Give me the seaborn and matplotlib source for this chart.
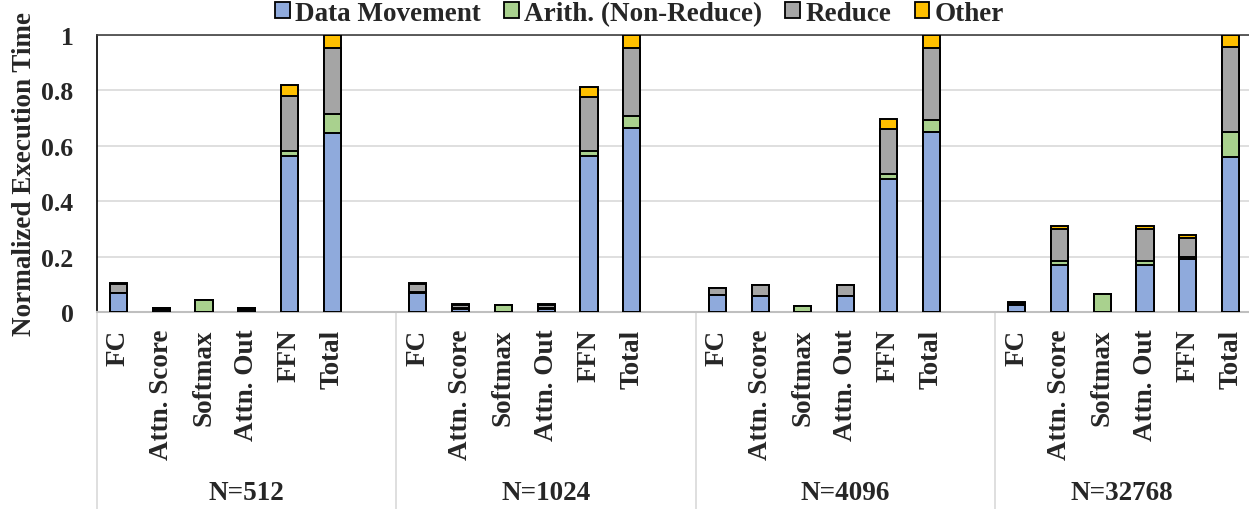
import pandas as pd
import matplotlib
matplotlib.use("Agg")
import matplotlib.pyplot as plt
import seaborn as sns
from matplotlib.patches import Patch

# values (normalized execution time)
groups = ["N=512", "N=1024", "N=4096", "N=32768"]
kernels = ["FC", "Attn. Score", "Softmax", "Attn. Out", "FFN", "Total"]
series = ["Data Movement", "Arith. (Non-Reduce)", "Reduce", "Other"]
colors = ["#8FAADC", "#A9D18E", "#A5A5A5", "#FFC000"]

data_movement = [0.068, 0.008, 0.0, 0.008, 0.563, 0.647,
                 0.070, 0.012, 0.0, 0.012, 0.562, 0.663,
                 0.060, 0.057, 0.0, 0.057, 0.481, 0.650,
                 0.024, 0.171, 0.0, 0.171, 0.192, 0.559]
arith = [0.002, 0.001, 0.045, 0.001, 0.019, 0.068,
         0.001, 0.001, 0.024, 0.001, 0.018, 0.046,
         0.001, 0.001, 0.022, 0.001, 0.017, 0.044,
         0.001, 0.013, 0.064, 0.013, 0.007, 0.091]
reduce_ = [0.031, 0.006, 0.0, 0.006, 0.197, 0.237,
           0.031, 0.014, 0.0, 0.014, 0.195, 0.243,
           0.024, 0.040, 0.0, 0.040, 0.163, 0.258,
           0.008, 0.114, 0.0, 0.114, 0.068, 0.308]
other = [0.003, 0.001, 0.0, 0.001, 0.039, 0.048,
         0.001, 0.001, 0.0, 0.001, 0.038, 0.048,
         0.003, 0.001, 0.0, 0.001, 0.036, 0.048,
         0.002, 0.011, 0.0, 0.011, 0.010, 0.042]

sns.set_style("white")
plt.rcParams["font.family"] = ["Liberation Serif", "DejaVu Serif"]
plt.rcParams["font.weight"] = "bold"
plt.rcParams["axes.labelweight"] = "bold"
FS = 19.5

# one slot per bar, plus an empty slot between groups
keys = [f"{g}|{k}" for g in groups for k in kernels]
order = []
tick_labels = []
for gi, g in enumerate(groups):
    for k in kernels:
        order.append(f"{g}|{k}")
        tick_labels.append(k)
    if gi < len(groups) - 1:
        order.append(f"gap{gi}")
        tick_labels.append("")

df = pd.DataFrame({"slot": keys, "dm": data_movement, "ar": arith,
                   "re": reduce_, "ot": other})
df["c1"] = df["dm"]
df["c2"] = df["c1"] + df["ar"]
df["c3"] = df["c2"] + df["re"]
df["c4"] = df["c3"] + df["ot"]

fig = plt.figure(figsize=(12.49, 5.10), dpi=100)
ax = fig.add_axes([0.0777, 0.3863, 0.9223, 0.5431])

# stacked bars: draw cumulative totals from top layer down
for col, color in zip(["c4", "c3", "c2", "c1"], colors[::-1]):
    sns.barplot(data=df, x="slot", y=col, order=order, color=color,
                saturation=1, edgecolor="black", linewidth=1.4, width=0.4,
                errorbar=None, ax=ax, zorder=3)

ax.set_xlim(-0.5, 26.43)
ax.set_ylim(0, 1)
ax.set_yticks([0, 0.2, 0.4, 0.6, 0.8, 1.0])
ax.set_yticklabels(["0", "0.2", "0.4", "0.6", "0.8", "1"], fontsize=18.5,
                   fontweight="bold")
ax.yaxis.grid(True, color="#D9D9D9", linewidth=1.2, zorder=0)
ax.set_axisbelow(True)
ax.tick_params(axis="y", direction="in", length=4, width=1, color="black",
               pad=17)

ax.set_xticks(range(len(order)))
ax.set_xticklabels(tick_labels, rotation=90, fontsize=FS, fontweight="bold")
ax.tick_params(axis="x", length=0, pad=12)
ax.set_xlabel("")
ax.set_ylabel("Normalized Execution Time", fontsize=FS, fontweight="bold")
ax.yaxis.set_label_coords(-0.052, 0.5)

for side in ["left", "top", "bottom", "right"]:
    ax.spines[side].set_visible(True)
ax.spines["left"].set_color("black")
ax.spines["left"].set_linewidth(1.2)
ax.spines["top"].set_color("#404040")
ax.spines["top"].set_linewidth(1.2)
ax.spines["bottom"].set_color("#BFBFBF")
ax.spines["bottom"].set_linewidth(1.5)
ax.spines["right"].set_visible(False)

# group separators and group labels under the category axis
trans = ax.get_xaxis_transform()
for b in [-0.5, 6.5, 13.5, 20.5]:
    ax.plot([b, b], [0, -0.72], color="#D9D9D9", linewidth=1.2,
            transform=trans, clip_on=False)
bounds = [-0.5, 6.5, 13.5, 20.5, 26.43]
for gi, g in enumerate(groups):
    cx = (bounds[gi] + bounds[gi + 1]) / 2
    ax.text(cx, -0.65, g, transform=trans, ha="center", va="center",
            fontsize=FS, fontweight="bold")

handles = [Patch(facecolor=c, edgecolor="black", linewidth=1.3) for c in colors]
fig.legend(handles, series, loc="center", bbox_to_anchor=(0.512, 0.972),
           ncol=4, frameon=False, prop={"size": FS, "weight": "bold"},
           handlelength=0.55, handleheight=0.55, handletextpad=0.2,
           columnspacing=0.85, borderaxespad=0, borderpad=0)

fig.savefig("out.png", dpi=100)
